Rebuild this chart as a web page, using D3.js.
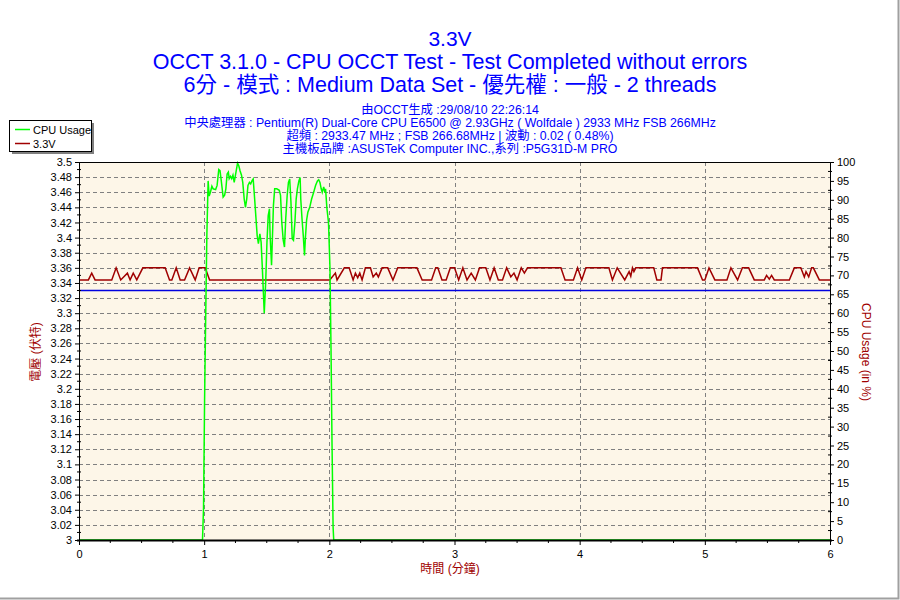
<!DOCTYPE html>
<html>
<head>
<meta charset="utf-8">
<script src="https://cdn.jsdelivr.net/npm/d3@7"></script>
<style>
  body { margin: 0; background: #fff; }
  svg text { font-family: "Liberation Sans", Arial, "Noto Sans CJK TC", sans-serif; }
</style>
</head>
<body>
<svg id="chart" width="900" height="600"></svg>
<script>
// seconds, percent
const cpuPoints = [[0,0],[59.2,0],[59.7,8.5],[60.2,37],[60.8,62],[61.3,81],[61.9,95],[62.4,91],[63,92],[63.7,93.6],
  [64.3,92.9],[65.5,92.7],[66.2,93.8],[67,98],[67.6,97.7],[68.2,95],[69.1,90.7],[69.8,91.2],[70.4,92.9],[71,96.8],
  [71.6,97.3],[72,95.6],[72.6,96.2],[73.2,95.6],[73.8,96.5],[74.4,94.6],[75,96.5],[76,99.7],[76.6,99],[77.2,97.7],
  [77.9,96.5],[78.5,94.6],[79.2,90.2],[79.8,88],[80.4,90.2],[81,93.8],[81.7,94.6],[82.3,94.2],[82.9,95],[83.5,95.5],
  [84.2,90.2],[84.8,85.4],[85.4,80.6],[86,78.4],[86.7,81],[87.3,78.8],[87.9,71.8],[88.5,63.9],[88.8,60],[89.5,68.3],
  [90.1,78.8],[90.7,85.8],[91.3,87.6],[91.6,80.6],[92.3,72.7],[92.6,78],[93.2,88.5],[93.8,92.9],[94.8,92.9],[96,92.5],
  [96.6,91.2],[97.2,84.1],[97.9,79.3],[98.5,77.5],[99.1,85],[99.8,91.2],[100.4,94.6],[101,95.5],[101.6,89.4],[102.2,79.7],
  [102.8,79.3],[103.5,84.1],[104.1,90.2],[104.7,92.9],[105.4,95],[106,95.9],[106.3,90.2],[106.9,85],[107.5,80.6],[108.1,75.3],
  [108.5,79.7],[109.1,84.6],[109.7,86.7],[110.6,88],[111.5,90.2],[112.5,92],[113.4,93.8],[114.3,95],[114.9,95.3],[115.5,94.6],
  [116.1,92.9],[116.6,92],[117.3,93.4],[117.9,92],[118.2,92.9],[118.8,88],[119.6,84],[120.3,72],[120.8,51],[121.3,25],
  [121.8,3.5],[122.1,0],[360,0]];

// seconds, volts
const voltPoints = [[0,3.344],[4.5,3.344],[6.1,3.353],[7.7,3.344],[15.7,3.344],[17.8,3.36],[20,3.344],[23.2,3.353],[24.5,3.344],[26,3.353],
  [27.7,3.344],[30.6,3.36],[41.3,3.36],[43.4,3.344],[44.5,3.344],[46.6,3.36],[48.5,3.344],[50.6,3.344],[53,3.36],[55.7,3.344],
  [57.6,3.36],[60.5,3.36],[62.6,3.344],[120.2,3.344],[122.9,3.353],[123.7,3.344],[127.2,3.36],[129.5,3.36],[131.4,3.344],[132.5,3.353],
  [133.6,3.347],[134.6,3.353],[135.7,3.344],[137.3,3.36],[139.7,3.36],[141,3.348],[142.5,3.353],[143.5,3.348],[145.3,3.36],[148,3.36],
  [150.5,3.344],[152.8,3.36],[162,3.36],[164.5,3.344],[169,3.344],[171,3.36],[172,3.36],[174,3.344],[176,3.344],[178,3.36],
  [180,3.36],[182,3.344],[184,3.36],[186,3.344],[188,3.353],[190,3.344],[192,3.36],[195,3.36],[197,3.344],[199,3.36],
  [201,3.344],[203,3.344],[205,3.36],[207,3.348],[208.5,3.353],[210,3.344],[212,3.36],[213.5,3.353],[215,3.36],[231,3.36],
  [233,3.344],[237,3.344],[239,3.36],[241,3.344],[243,3.36],[254,3.36],[255.7,3.344],[258,3.36],[261.6,3.344],[263.7,3.355],
  [264.5,3.349],[265.3,3.36],[266,3.355],[266.9,3.36],[275.5,3.36],[277,3.344],[279,3.344],[279.7,3.36],[296.5,3.36],[298.9,3.344],
  [300,3.344],[302,3.36],[304.8,3.344],[310.6,3.344],[312.5,3.36],[315.7,3.344],[318,3.36],[321,3.36],[323.7,3.344],[328.5,3.344],
  [329.6,3.35],[330.9,3.345],[332,3.35],[333.3,3.344],[340.5,3.344],[342.9,3.36],[346,3.36],[347.7,3.348],[348.5,3.355],[349.8,3.348],
  [351.2,3.36],[352,3.36],[354.9,3.344],[360,3.344]];

const refVolt = 3.33;
const minuteTicks = [0, 1, 2, 3, 4, 5, 6];
const voltTicks = d3.range(0, 26).map(i => +(3 + i * 0.02).toFixed(2));
const cpuTicks = d3.range(0, 101, 5);

const titleLines = ['3.3V',
  'OCCT 3.1.0 - CPU OCCT Test - Test Completed without errors',
  '6分 - 模式 : Medium Data Set - 優先權 : 一般 - 2 threads'];
const infoLines = ['由OCCT生成 :29/08/10 22:26:14',
  '中央處理器 : Pentium(R) Dual-Core CPU E6500 @ 2.93GHz ( Wolfdale ) 2933 MHz FSB 266MHz',
  '超頻 : 2933.47 MHz ; FSB 266.68MHz | 波動 : 0.02 ( 0.48%)',
  '主機板品牌 :ASUSTeK Computer INC.,系列 :P5G31D-M PRO'];

const plot = {left: 79, right: 830, top: 162, bottom: 540};
const darkRed = '#a00000';
const svg = d3.select('#chart');

const xScale = d3.scaleLinear().domain([0, 6]).range([plot.left, plot.right]);
const yVolt = d3.scaleLinear().domain([3, 3.5]).range([plot.bottom, plot.top]);
const yCpu = d3.scaleLinear().domain([0, 100]).range([plot.bottom, plot.top]);

// outer frame shading
svg.append('rect').attr('x', 0).attr('y', 0).attr('width', 900).attr('height', 600).attr('fill', '#fff');
svg.append('path').attr('d', 'M898.5,0V598.5H0').attr('fill', 'none').attr('stroke', '#a0a0a0').attr('stroke-width', 2);

// titles
svg.selectAll('.title').data(titleLines).enter().append('text')
  .attr('x', 450).attr('y', (d, i) => [46, 69, 92][i])
  .attr('text-anchor', 'middle').attr('fill', '#0000ff')
  .style('font-size', (d, i) => i === 0 ? '21px' : '21.5px')
  .text(d => d);
svg.selectAll('.info').data(infoLines).enter().append('text')
  .attr('x', 450).attr('y', (d, i) => 114 + i * 13)
  .attr('text-anchor', 'middle').attr('fill', '#0000ff')
  .style('font-size', '12.3px')
  .text(d => d);

// plot background
svg.append('rect').attr('x', plot.left).attr('y', plot.top)
  .attr('width', plot.right - plot.left).attr('height', plot.bottom - plot.top)
  .attr('fill', '#fdf6e8');

// grid
svg.append('g').selectAll('line').data(voltTicks.slice(1, -1)).enter().append('line')
  .attr('x1', plot.left).attr('x2', plot.right)
  .attr('y1', d => Math.round(yVolt(d)) + 0.5).attr('y2', d => Math.round(yVolt(d)) + 0.5)
  .attr('stroke', '#808080').attr('stroke-dasharray', '4,3');
svg.append('g').selectAll('line').data(minuteTicks.slice(1, -1)).enter().append('line')
  .attr('y1', plot.top).attr('y2', plot.bottom)
  .attr('x1', d => Math.round(xScale(d)) + 0.5).attr('x2', d => Math.round(xScale(d)) + 0.5)
  .attr('stroke', '#808080').attr('stroke-dasharray', '4,3');

// reference line
svg.append('line').attr('x1', plot.left).attr('x2', plot.right)
  .attr('y1', yVolt(refVolt)).attr('y2', yVolt(refVolt))
  .attr('stroke', '#0000e0').attr('stroke-width', 1.5);

const voltLine = d3.line().x(d => xScale(d[0] / 60)).y(d => yVolt(d[1]));
const cpuLine = d3.line().x(d => xScale(d[0] / 60)).y(d => yCpu(d[1]));

svg.append('path').datum(voltPoints).attr('d', voltLine)
  .attr('fill', 'none').attr('stroke', darkRed).attr('stroke-width', 1.5);
svg.append('path').datum(cpuPoints).attr('d', cpuLine)
  .attr('fill', 'none').attr('stroke', '#00ff00').attr('stroke-width', 1.5);

// axes
const leftAxis = d3.axisLeft(yVolt).tickValues(voltTicks).tickSize(4).tickPadding(3)
  .tickFormat(d => d3.format('')(+d.toFixed(2)));
const rightAxis = d3.axisRight(yCpu).tickValues(cpuTicks).tickSize(4).tickPadding(3);
const bottomAxis = d3.axisBottom(xScale).tickValues(minuteTicks).tickSize(5).tickPadding(5)
  .tickFormat(d3.format('d'));

const styleAxis = g => {
  g.selectAll('text').attr('fill', '#000').style('font-size', '11px')
    .style('font-family', '"Liberation Sans", Arial, sans-serif');
  g.selectAll('line').attr('stroke', '#000');
};

const gl = svg.append('g').attr('transform', `translate(${plot.left},0)`).call(leftAxis).call(styleAxis);
gl.select('.domain').remove();
const gr = svg.append('g').attr('transform', `translate(${plot.right},0)`).call(rightAxis).call(styleAxis);
gr.select('.domain').remove();
const gb = svg.append('g').attr('transform', `translate(0,${plot.bottom})`).call(bottomAxis).call(styleAxis);
gb.select('.domain').remove();

// minor ticks
svg.append('g').selectAll('line').data(d3.range(0, 25).map(i => 3.01 + i * 0.02)).enter().append('line')
  .attr('x1', plot.left - 2).attr('x2', plot.left + 2)
  .attr('y1', d => yVolt(d)).attr('y2', d => yVolt(d)).attr('stroke', '#000');
svg.append('g').selectAll('line').data(d3.range(0, 20).map(i => 2.5 + i * 5)).enter().append('line')
  .attr('x1', plot.right - 2).attr('x2', plot.right + 2)
  .attr('y1', d => yCpu(d)).attr('y2', d => yCpu(d)).attr('stroke', '#000');
svg.append('g').selectAll('line').data(d3.range(0, 24).map(i => i * 0.25).filter(d => d % 1 !== 0)).enter().append('line')
  .attr('y1', plot.bottom).attr('y2', plot.bottom + 3)
  .attr('x1', d => xScale(d)).attr('x2', d => xScale(d)).attr('stroke', '#000');

// frame lines
svg.append('line').attr('x1', plot.left).attr('x2', plot.right).attr('y1', plot.top + 0.5).attr('y2', plot.top + 0.5).attr('stroke', '#000');
svg.append('line').attr('x1', plot.left + 0.5).attr('x2', plot.left + 0.5).attr('y1', plot.top).attr('y2', plot.bottom).attr('stroke', '#000');
svg.append('line').attr('x1', plot.right + 0.5).attr('x2', plot.right + 0.5).attr('y1', plot.top).attr('y2', plot.bottom).attr('stroke', '#000');
svg.append('line').attr('x1', plot.left - 2).attr('x2', plot.right + 2).attr('y1', plot.bottom + 0.5).attr('y2', plot.bottom + 0.5).attr('stroke', '#000').attr('stroke-width', 2);

// axis titles
svg.append('text').attr('x', 450).attr('y', 573).attr('text-anchor', 'middle')
  .attr('fill', darkRed).style('font-size', '12px').text('時間 (分鐘)');
svg.append('text').attr('transform', 'translate(40,352) rotate(-90)').attr('text-anchor', 'middle')
  .attr('fill', darkRed).style('font-size', '12px').text('電壓 (伏特)');
svg.append('text').attr('transform', 'translate(862,352) rotate(90)').attr('text-anchor', 'middle')
  .attr('fill', darkRed).style('font-size', '12px').text('CPU Usage (in %)');

// legend
const legendItems = [{name: 'CPU Usage', color: '#00ff00'}, {name: '3.3V', color: darkRed}];
const legend = svg.append('g');
legend.append('rect').attr('x', 12).attr('y', 123).attr('width', 82).attr('height', 31).attr('fill', '#808080');
legend.append('rect').attr('x', 9.5).attr('y', 120.5).attr('width', 82).attr('height', 31)
  .attr('fill', '#fff').attr('stroke', '#000');
legendItems.forEach((item, i) => {
  legend.append('line').attr('x1', 15).attr('x2', 30).attr('y1', 129.5 + i * 14).attr('y2', 129.5 + i * 14)
    .attr('stroke', item.color).attr('stroke-width', 1.5);
  legend.append('text').attr('x', 33).attr('y', 133.5 + i * 14).style('font-size', '11px')
    .attr('fill', '#000').text(item.name);
});
</script>
</body>
</html>
